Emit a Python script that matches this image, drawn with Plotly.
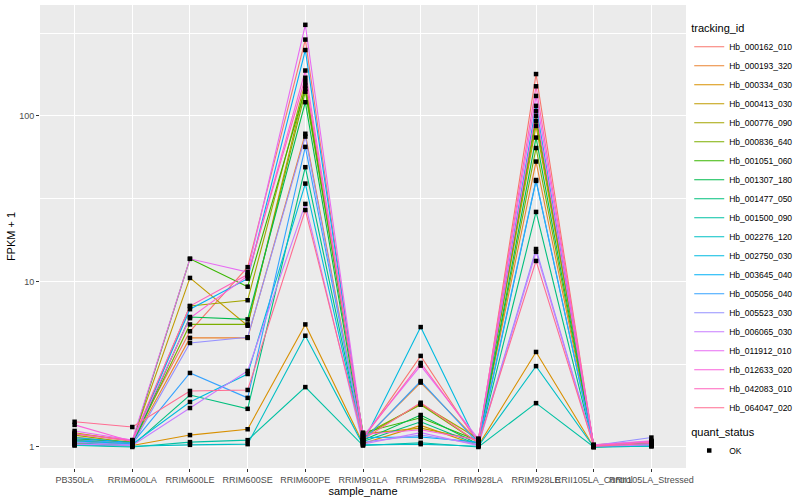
import plotly.graph_objects as go

samples = ["PB350LA", "RRIM600LA", "RRIM600LE", "RRIM600SE", "RRIM600PE", "RRIM901LA",
           "RRIM928BA", "RRIM928LA", "RRIM928LE", "RRII105LA_Control", "RRII105LA_Stressed"]

tracking_ids = ["Hb_000162_010", "Hb_000193_320", "Hb_000334_030", "Hb_000413_030", "Hb_000776_090",
                "Hb_000836_640", "Hb_001051_060", "Hb_001307_180", "Hb_001477_050", "Hb_001500_090",
                "Hb_002276_120", "Hb_002750_030", "Hb_003645_040", "Hb_005056_040", "Hb_005523_030",
                "Hb_006065_030", "Hb_011912_010", "Hb_012633_020", "Hb_042083_010", "Hb_064047_020"]

colors = ["#F8766D", "#EA8331", "#D89000", "#C09B00", "#A3A500", "#7CAE00", "#39B600", "#00BB4E",
          "#00BF7D", "#00C1A3", "#00BFC4", "#00BAE0", "#00B0F6", "#35A2FF", "#9590FF", "#C77CFF",
          "#E76BF3", "#FA62DB", "#FF62BC", "#FF6C91"]

fpkm_hb_000162_010 = [1.20, 1.10, 5.0, 12.2, 289, 1.12, 3.55, 1.05, 179, 1.01, 1.02]
fpkm_hb_000193_320 = [1.15, 1.05, 4.56, 4.56, 78, 1.10, 2.45, 1.08, 53, 1.02, 1.06]
fpkm_hb_000334_030 = [1.05, 1.02, 1.18, 1.28, 5.5, 1.05, 1.35, 1.02, 3.75, 1.00, 1.03]
fpkm_hb_000413_030 = [1.22, 1.08, 10.5, 5.4, 152, 1.20, 1.30, 1.10, 87, 1.03, 1.08]
fpkm_hb_000776_090 = [1.18, 1.06, 7.1, 7.7, 160, 1.15, 1.82, 1.12, 93, 1.02, 1.07]
fpkm_hb_000836_640 = [1.10, 1.04, 5.5, 5.5, 140, 1.18, 1.80, 1.06, 64, 1.01, 1.05]
fpkm_hb_001051_060 = [1.12, 1.07, 13.7, 9.3, 146, 1.22, 1.50, 1.09, 100, 1.02, 1.06]
fpkm_hb_001307_180 = [1.08, 1.03, 6.1, 5.9, 121, 1.10, 1.56, 1.04, 74, 1.01, 1.04]
fpkm_hb_001477_050 = [1.06, 1.02, 2.06, 1.70, 49, 1.08, 1.42, 1.03, 26.3, 1.00, 1.02]
fpkm_hb_001500_090 = [1.02, 1.00, 1.07, 1.10, 2.3, 1.02, 1.06, 1.00, 1.84, 1.00, 1.01]
fpkm_hb_002276_120 = [1.03, 1.01, 1.03, 1.04, 4.7, 1.03, 1.04, 1.01, 3.08, 1.00, 1.01]
fpkm_hb_002750_030 = [1.09, 1.04, 1.87, 2.76, 39, 1.06, 5.3, 1.02, 40.5, 1.01, 1.03]
fpkm_hb_003645_040 = [1.14, 1.06, 6.8, 10.4, 250, 1.14, 1.15, 1.07, 115, 1.02, 1.05]
fpkm_hb_005056_040 = [1.11, 1.05, 2.8, 1.98, 65, 1.09, 2.5, 1.05, 41, 1.01, 1.04]
fpkm_hb_005523_030 = [1.07, 1.03, 4.25, 4.6, 75, 1.07, 1.18, 1.04, 15.7, 1.02, 1.14]
fpkm_hb_006065_030 = [1.04, 1.02, 1.72, 2.88, 29.4, 1.04, 1.22, 1.02, 15.1, 1.01, 1.03]
fpkm_hb_011912_010 = [1.25, 1.10, 13.7, 11.4, 355, 1.16, 3.10, 1.12, 132, 1.03, 1.09]
fpkm_hb_012633_020 = [1.36, 1.08, 6.0, 10.8, 188, 1.19, 1.27, 1.10, 107, 1.02, 1.08]
fpkm_hb_042083_010 = [1.20, 1.09, 7.1, 11.0, 170, 1.13, 3.22, 1.08, 151, 1.02, 1.07]
fpkm_hb_064047_020 = [1.42, 1.32, 2.18, 2.21, 27, 1.11, 1.85, 1.06, 13.3, 1.01, 1.05]

series = [fpkm_hb_000162_010, fpkm_hb_000193_320, fpkm_hb_000334_030, fpkm_hb_000413_030,
          fpkm_hb_000776_090, fpkm_hb_000836_640, fpkm_hb_001051_060, fpkm_hb_001307_180,
          fpkm_hb_001477_050, fpkm_hb_001500_090, fpkm_hb_002276_120, fpkm_hb_002750_030,
          fpkm_hb_003645_040, fpkm_hb_005056_040, fpkm_hb_005523_030, fpkm_hb_006065_030,
          fpkm_hb_011912_010, fpkm_hb_012633_020, fpkm_hb_042083_010, fpkm_hb_064047_020]

y_ticks = [1, 10, 100]
y_minor = [3.1623, 31.623, 316.23]

fig = go.Figure()

for tid, col, vals in zip(tracking_ids, colors, series):
    fig.add_trace(go.Scatter(x=samples, y=vals, mode="lines", name=tid,
                             line=dict(color=col, width=1.1), legend="legend"))

all_x, all_y = [], []
for vals in series:
    all_x += samples
    all_y += vals
fig.add_trace(go.Scatter(x=all_x, y=all_y, mode="markers", name="OK",
                         marker=dict(color="black", size=4.5, symbol="square"),
                         legend="legend2"))

font = "Liberation Sans, Arial, sans-serif"
fig.update_layout(
    width=800, height=500,
    margin=dict(l=40, r=114, t=5, b=32, autoexpand=False),
    paper_bgcolor="white", plot_bgcolor="#EBEBEB",
    font=dict(family=font, color="black"),
    showlegend=True,
    legend=dict(title=dict(text="tracking_id", font=dict(size=11)),
                font=dict(size=8.5), x=1.005, xanchor="left", y=0.972, yanchor="top",
                tracegroupgap=0, itemwidth=30, bgcolor="rgba(0,0,0,0)"),
    legend2=dict(title=dict(text="quant_status", font=dict(size=11)),
                 font=dict(size=8.5), x=1.005, xanchor="left", y=0.10, yanchor="top",
                 itemwidth=30, bgcolor="rgba(0,0,0,0)"),
    xaxis=dict(type="category", range=[-0.6, 10.6], showgrid=True, gridcolor="white",
               gridwidth=1.1, zeroline=False, ticks="outside", ticklen=3, tickcolor="#333333",
               tickangle=0, automargin=False,
               tickfont=dict(size=9, color="#4D4D4D"),
               title=dict(text="sample_name", font=dict(size=11), standoff=0)),
    yaxis=dict(type="log", range=[-0.127, 2.67], tickvals=y_ticks, ticktext=["1", "10", "100"],
               showgrid=True, gridcolor="white", gridwidth=1.1, zeroline=False,
               ticks="outside", ticklen=3, tickcolor="#333333", automargin=False,
               tickfont=dict(size=9, color="#4D4D4D"),
               minor=dict(tickvals=y_minor, showgrid=True, gridcolor="white", gridwidth=0.5, ticks=""),
               title=dict(text="FPKM + 1", font=dict(size=11), standoff=1)),
)

fig.write_html("out.html", config={"displayModeBar": False},
               post_script="document.body.style.margin='0';document.body.style.overflow='hidden';")
